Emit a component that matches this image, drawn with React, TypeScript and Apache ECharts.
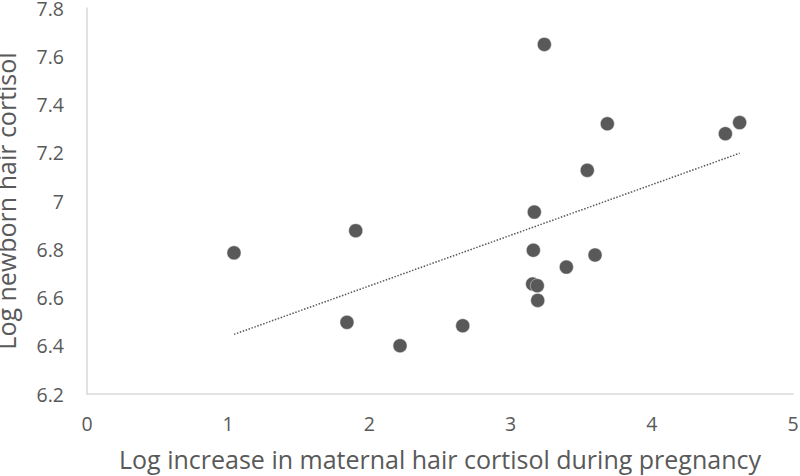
import React, { useEffect, useRef } from "react";
import * as echarts from "echarts";

const xValues = [1.041, 1.903, 1.841, 2.217, 2.661, 3.239, 3.543, 3.168, 3.161, 3.395, 3.156, 3.189, 3.192, 3.598, 3.685, 4.521, 4.622];
const yValues = [6.785, 6.877, 6.497, 6.400, 6.483, 7.649, 7.127, 6.954, 6.796, 6.726, 6.656, 6.649, 6.588, 6.776, 7.320, 7.279, 7.325];
const trendX = [1.041, 4.622];
const trendY = [6.447, 7.198];

const xTitle = "Log increase in maternal hair cortisol during pregnancy";
const yTitle = "Log newborn hair cortisol";

export default function App() {
  const ref = useRef<HTMLDivElement>(null);
  useEffect(() => {
    if (!ref.current) return;
    const chart = echarts.init(ref.current, null, { renderer: "svg" });
    const font = "'Open Sans', sans-serif";
    const textColor = "#595959";
    chart.setOption({
      animation: false,
      backgroundColor: "#ffffff",
      grid: { left: 87, right: 7, top: 8, bottom: 82, outerBoundsMode: "none" },
      xAxis: {
        type: "value",
        min: 0,
        max: 5,
        interval: 1,
        name: xTitle,
        nameLocation: "middle",
        nameGap: 52,
        nameTextStyle: { color: textColor, fontFamily: font, fontSize: 25, lineHeight: 26 },
        axisLine: { show: true, lineStyle: { color: "#d9d9d9", width: 1.5 } },
        axisTick: { show: false },
        splitLine: { show: false },
        axisLabel: { color: textColor, fontFamily: font, fontSize: 19.5, margin: 21, lineHeight: 16 },
      },
      yAxis: {
        type: "value",
        min: 6.2,
        max: 7.8,
        interval: 0.2,
        name: yTitle,
        nameLocation: "middle",
        nameGap: 68,
        nameTextStyle: { color: textColor, fontFamily: font, fontSize: 25, lineHeight: 26 },
        axisLine: { show: true, lineStyle: { color: "#d9d9d9", width: 1.5 } },
        axisTick: { show: false },
        splitLine: { show: false },
        axisLabel: {
          color: textColor,
          fontFamily: font,
          fontSize: 19.5,
          margin: 23,
          lineHeight: 16,
          formatter: (v: number) => String(Math.round(v * 10) / 10),
        },
      },
      series: [
        {
          type: "line",
          data: trendX.map((x, i) => [x, trendY[i]]),
          symbol: "none",
          lineStyle: { color: "#595959", width: 1.5, type: [1.5, 1.6] },
          z: 1,
        },
        {
          type: "scatter",
          data: xValues.map((x, i) => [x, yValues[i]]),
          symbol: "circle",
          symbolSize: 14,
          itemStyle: { color: "#595959", opacity: 1, borderColor: "#e8e8e8", borderWidth: 0.5 },
          z: 2,
        },
      ],
    });
    return () => chart.dispose();
  }, []);
  return <div ref={ref} style={{ position: "fixed", left: 0, top: 0, width: 800, height: 476 }} />;
}
